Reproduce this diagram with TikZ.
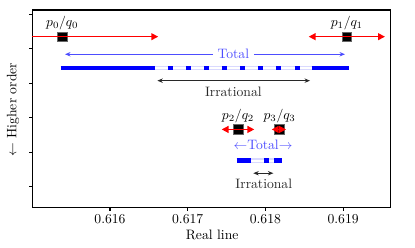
\documentclass[tikz,border=0pt]{standalone}
\usepackage{tikz}
\usetikzlibrary{arrows.meta, positioning}
\definecolor{totblue}{RGB}{77,77,255}
\definecolor{irrgray}{RGB}{40,40,40}

\begin{document}
\begin{tikzpicture}[x=56.9pt, y=-25.25pt,
  redtip/.tip={Triangle[length=5pt,width=5pt]},
  linetip/.tip={Stealth[length=4pt,width=3.2pt]},
  gaparr/.style={red, line width=1pt},
  totarr/.style={totblue, line width=0.7pt, -linetip},
  irrarr/.style={irrgray, line width=0.7pt, linetip-linetip},
  fraction/.style={rectangle, fill=black, draw=black!60, minimum size=7pt, inner sep=0pt},
  bar/.style={blue, line width=3.1pt},
  band/.style={draw=blue!15, line width=0.75pt, double=white, double distance=1.6pt},
  dotbar/.style={blue, line width=3.1pt, dash pattern=on 3.66pt off 9.59pt, dash phase=3.8pt},
  axis/.style={line width=0.8pt}]
  \useasboundingbox (-0.4157,-0.4145) rectangle (4.925,6.774);
  % frame and ticks
  \draw[axis] (0,-0.125) rectangle (4.604,5.606);
  \foreach \v/\lab in {1/0.616, 2/0.617, 3/0.618, 4/0.619} {
    \draw[axis] (\v,5.606) -- ++(0,-2.5pt);
    \node (tick\v) at (\v,5.94) {\lab};
  }
  \foreach \k in {0,...,5}
    \draw[axis] (0,\k) -- ++(-2.5pt,0);
  \node (xlab) at (2.315,6.397) {Real line};
  \node[rotate=90] (ylab) at (-0.248,2.77) {$\leftarrow$ Higher order};

  % first pair: 8/13 and 13/21
  \node[fraction] (sq0) at (0.3846,0.649) {};
  \node[fraction] (sq1) at (4.0476,0.649) {};
  \node[above=0pt of sq0, inner sep=1pt] (lab0) {$p_0/q_0$};
  \node[above=0pt of sq1, inner sep=1pt] (lab1) {$p_1/q_1$};
  \coordinate (a0l) at (0,0.649);
  \coordinate (a0r) at (1.62,0.649);
  \coordinate (a1l) at (3.557,0.649);
  \coordinate (a1r) at (4.538,0.649);
  \draw[gaparr, -redtip] (a0l) -- (a0r);
  \draw[gaparr, redtip-redtip] (a1l) -- (a1r);

  \node[text=totblue] (tot1) at (2.587,1.159) {Total};
  \coordinate (t1l) at (0.421,1.159);
  \coordinate (t1r) at (4.024,1.159);
  \draw[totarr] (tot1) -- (t1l);
  \draw[totarr] (tot1) -- (t1r);

  \draw[bar] (0.366,1.565) -- (1.579,1.565);
  \draw[band] (1.579,1.565) -- (3.596,1.565);
  \draw[dotbar] (1.579,1.565) -- (3.596,1.565);
  \draw[bar] (3.596,1.565) -- (4.08,1.565);

  \coordinate (i1l) at (1.609,1.925);
  \coordinate (i1r) at (3.574,1.925);
  \draw[irrarr] (i1l) -- (i1r);
  \node[text=irrgray] (irr1) at (2.587,2.243) {Irrational};

  % second pair: 21/34 and 34/55
  \node[fraction] (sq2) at (2.6471,3.339) {};
  \node[fraction] (sq3) at (3.1818,3.339) {};
  \node[above=0pt of sq2, inner sep=1pt] (lab2) {$p_2/q_2$};
  \node[above=0pt of sq3, inner sep=1pt] (lab3) {$p_3/q_3$};
  \coordinate (a2l) at (2.437,3.339);
  \coordinate (a2r) at (2.857,3.339);
  \coordinate (a3l) at (3.081,3.339);
  \coordinate (a3r) at (3.265,3.339);
  \draw[gaparr, redtip-redtip] (a2l) -- (a2r);
  \draw[gaparr, redtip-redtip] (a3l) -- (a3r);

  \node[text=totblue] (tot2) at (2.969,3.788) {$\leftarrow$Total$\rightarrow$};

  \draw[bar] (2.631,4.243) -- (2.815,4.243);
  \draw[band] (2.815,4.243) -- (3.115,4.243);
  \draw[dotbar] (2.815,4.243) -- (3.115,4.243);
  \draw[bar] (3.115,4.243) -- (3.21,4.243);

  \coordinate (i2l) at (2.844,4.609);
  \coordinate (i2r) at (3.102,4.609);
  \draw[irrarr] (i2l) -- (i2r);
  \node[text=irrgray] (irr2) at (2.979,4.919) {Irrational};
\end{tikzpicture}
\end{document}
